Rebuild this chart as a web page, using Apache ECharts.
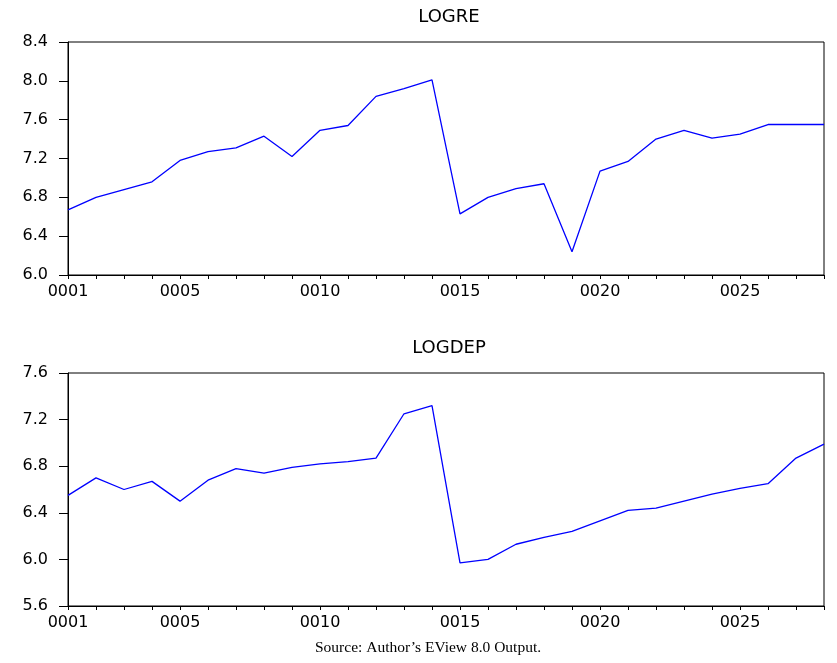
<!DOCTYPE html>
<html>
<head>
<meta charset="utf-8">
<title>LOGRE / LOGDEP</title>
<script src="https://cdn.jsdelivr.net/npm/echarts@6/dist/echarts.min.js"></script>
<style>
  html, body { margin: 0; padding: 0; background: #fff; }
  #chart { width: 837px; height: 663px; }
</style>
</head>
<body>
<div id="chart"></div>
<script>
// 观测期 0001 ~ 0028
const periods = [
  '0001', '0002', '0003', '0004', '0005', '0006', '0007', '0008', '0009', '0010',
  '0011', '0012', '0013', '0014', '0015', '0016', '0017', '0018', '0019', '0020',
  '0021', '0022', '0023', '0024', '0025', '0026', '0027', '0028'
];
// LOGRE 序列
const logre = [
  6.67, 6.80, 6.88, 6.96, 7.18, 7.27, 7.31, 7.43, 7.22, 7.49,
  7.54, 7.84, 7.92, 8.01, 6.63, 6.80, 6.89, 6.94, 6.24, 7.07,
  7.17, 7.40, 7.49, 7.41, 7.45, 7.55, 7.55, 7.55
];
// LOGDEP 序列
const logdep = [
  6.55, 6.70, 6.60, 6.67, 6.50, 6.68, 6.78, 6.74, 6.79, 6.82,
  6.84, 6.87, 7.25, 7.32, 5.97, 6.00, 6.13, 6.19, 6.24, 6.33,
  6.42, 6.44, 6.50, 6.56, 6.61, 6.65, 6.87, 6.99
];
const titles = ['LOGRE', 'LOGDEP'];
const yRanges = [[6.0, 8.4], [5.6, 7.6]];
const yStep = 0.4;
const sourceNote = 'Source: Author’s EView 8.0 Output.';

const chart = echarts.init(document.getElementById('chart'));
const axisFont = { fontFamily: 'DejaVu Sans', fontSize: 16, color: '#000' };
const gridTops = [42, 373];

function xAxisFor(idx) {
  return {
    gridIndex: idx,
    type: 'category',
    boundaryGap: false,
    data: periods,
    axisLine: { show: true, lineStyle: { color: '#000', width: 1 } },
    axisTick: { show: true, interval: 0, length: 4, lineStyle: { color: '#000' } },
    axisLabel: Object.assign({
      interval: (i) => i === 0 || (i + 1) % 5 === 0,
      margin: 9
    }, axisFont),
    splitLine: { show: false }
  };
}

function yAxisFor(idx) {
  return {
    gridIndex: idx,
    type: 'value',
    min: yRanges[idx][0],
    max: yRanges[idx][1],
    interval: yStep,
    axisLine: { show: true, lineStyle: { color: '#000', width: 1 } },
    axisTick: { show: true, length: 9, lineStyle: { color: '#000' } },
    axisLabel: Object.assign({
      margin: 20,
      formatter: (v) => v.toFixed(1)
    }, axisFont),
    splitLine: { show: false }
  };
}

const option = {
  backgroundColor: '#fff',
  animation: false,
  title: titles.map((t, i) => ({
    text: t,
    left: 444,
    textAlign: 'center',
    top: i === 0 ? 3 : 334,
    textStyle: { fontFamily: 'DejaVu Sans', fontSize: 18, fontWeight: 'normal', color: '#000' }
  })),
  grid: gridTops.map((top) => ({
    left: 68,
    right: 13,
    top: top,
    height: 233,
    show: true,
    borderColor: '#000',
    borderWidth: 1,
    backgroundColor: 'transparent'
  })),
  xAxis: [xAxisFor(0), xAxisFor(1)],
  yAxis: [yAxisFor(0), yAxisFor(1)],
  series: [logre, logdep].map((d, i) => ({
    name: titles[i],
    type: 'line',
    xAxisIndex: i,
    yAxisIndex: i,
    data: d,
    symbol: 'none',
    lineStyle: { color: '#0000ff', width: 1.3 }
  })),
  graphic: [{
    type: 'text',
    left: 315,
    top: 640,
    style: {
      text: sourceNote,
      font: '15.5px "Liberation Serif"',
      fill: '#000'
    }
  }]
};

chart.setOption(option);
</script>
</body>
</html>
